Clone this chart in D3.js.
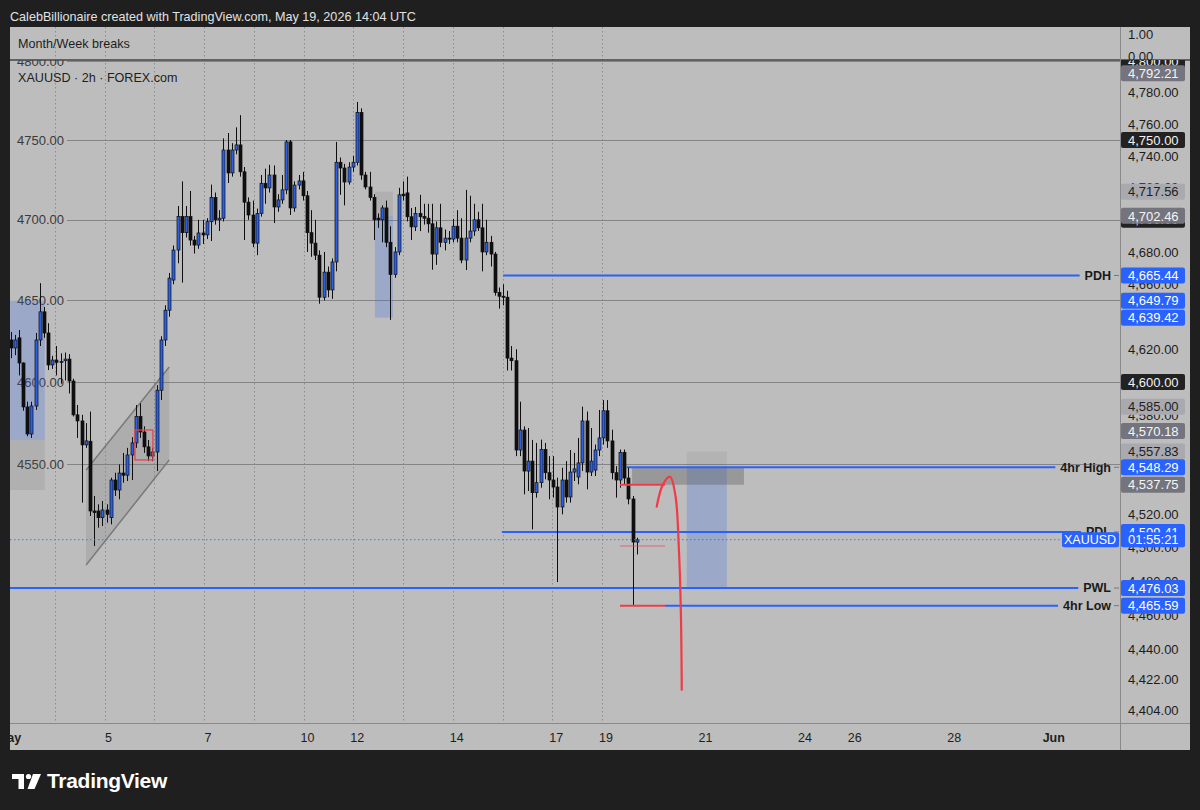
<!DOCTYPE html>
<html><head><meta charset="utf-8">
<script src="https://cdn.jsdelivr.net/npm/d3@7"></script>
<style>
body{margin:0;background:#1f1f1f;}
svg{display:block;font-family:"Liberation Sans",Arial,Helvetica,sans-serif;}
</style>
</head><body>
<svg id="c" width="1200" height="810"></svg>
<script>
// ---------------- DATA ----------------
const opens  = [4625.7,4620.8,4627,4611.6,4584.8,4568.4,4585.4,4625.7,4643,4630,4610.4,4613.4,4612,4613,4614,4600.6,4580,4576.3,4561.8,4564,4522,4522,4518,4522.6,4518,4540.6,4534.6,4544.8,4543.5,4555.7,4563,4579,4569.6,4560.6,4555.1,4557.5,4595,4625.7,4644,4662.6,4681.2,4702,4692,4702,4687.4,4684.3,4691.8,4690.6,4698.8,4714,4700,4701,4743.7,4729.3,4743.7,4746.9,4730,4711,4703,4685.5,4704,4722.8,4719.9,4728,4708,4712.4,4718.7,4748.8,4707.4,4721.7,4724.3,4715,4692,4685.5,4678,4652,4667.5,4656.5,4673.8,4736,4732.4,4723.6,4733,4736,4767.4,4728,4720.5,4714,4701,4700,4707.4,4686,4666,4680,4716,4716.8,4701.9,4695.6,4704,4702,4701,4697.5,4678.7,4695,4686,4688.6,4688,4696,4688.6,4675,4688.6,4693,4700,4695,4680,4686,4678.7,4655,4652.6,4652,4614.6,4613,4558.7,4570.8,4546,4552,4533,4539,4559,4545,4540.6,4536.4,4524.4,4540.6,4530.4,4545.4,4542.4,4550.9,4576.3,4545.4,4546.6,4558.7,4566,4582.5,4564.2,4545,4540.6,4557.3,4541.8,4529.2,4503.4];
const highs  = [4630.6,4628.8,4631.8,4612,4588,4588,4630,4660.7,4646,4636,4616,4622,4617.5,4618,4617,4602,4586,4580,4575,4582,4531,4526,4528,4526,4542,4545,4550,4556.9,4560,4566.5,4586,4587,4573,4564.8,4560,4598,4628,4647,4667,4684,4708.6,4724,4708.6,4718,4690,4700,4700,4701,4722,4717,4706,4751,4754.4,4748,4758,4765.7,4733,4714,4712,4707,4728,4732,4734.4,4734,4716,4728,4750,4750,4724,4728,4730,4718,4706,4700,4681,4680,4671,4676,4748.8,4739,4735,4736,4740,4774,4770,4730,4730,4716,4704,4709,4712,4696,4683,4720,4724,4727,4707.4,4708,4715.6,4710,4710,4710,4699,4710,4694,4693,4700.6,4706,4701,4718.7,4715,4710,4705,4710,4700,4690,4680,4658,4660,4656,4622,4620,4588,4573,4572,4564.8,4563,4565,4563,4555,4555,4542,4548,4552,4558.7,4557,4566,4585,4582,4572,4562,4583,4589,4589,4571,4549,4559,4559,4548,4531,4506];
const lows   = [4614.6,4616.4,4604,4582.5,4567,4566,4583,4622,4627,4607.3,4608,4604,4599,4601,4593,4579,4566,4527,4560,4519,4501,4512,4513,4515,4514,4531,4529,4539,4540,4540.6,4560,4566,4557,4552,4552,4546,4589,4622,4640,4660,4673,4661,4689,4684,4679,4682,4685,4688,4686.8,4697,4693,4699,4723,4727,4741,4727,4687.4,4700,4683,4678,4702,4710,4717,4698,4705,4710,4716,4703,4705,4719,4712,4680,4677,4675,4648,4650,4652,4651,4668,4715.6,4709,4722,4730,4734,4725,4719,4712,4687.4,4695,4686,4683,4638,4664,4678,4712,4699,4687.4,4693,4693,4697,4692,4669,4672,4683,4681,4685,4686,4686,4673,4668.8,4686,4690,4693,4668,4678,4671,4653,4645,4647,4607,4607,4555,4555,4532,4534,4511,4530,4536,4541,4529,4530,4479.6,4520,4527,4527,4540,4538,4546,4535,4543,4543,4555,4562,4560,4541,4530,4536,4538,4526,4465.6,4496];
const closes = [4620.8,4625.7,4611.6,4584.8,4568.4,4585.4,4625.7,4643,4630,4610.4,4613.4,4612,4612.5,4614,4600.6,4580,4576.3,4561.8,4564.2,4522,4521,4518,4522.6,4520,4540.6,4534.6,4544.8,4543.5,4555.7,4563,4579,4569.6,4560.6,4555.1,4557.5,4595,4625.7,4644,4663.8,4681.2,4702,4692,4702,4687.4,4684.3,4691.8,4690.6,4698.8,4714,4700,4701,4743.7,4729.3,4743.7,4746.9,4730,4711,4703,4685.5,4704,4722.8,4719.9,4728,4708,4712.4,4718.7,4748.8,4707.4,4721.7,4724.3,4715,4692,4685.5,4678,4652,4667.5,4656.5,4673.8,4736,4732.4,4723.6,4733,4736,4767.4,4728,4720.5,4714,4700,4700,4707.4,4686,4666,4680,4715.6,4715,4701.9,4695.6,4704,4701.9,4701,4697.5,4678.7,4695,4686,4688.6,4688,4696,4688.6,4675,4688.6,4693,4700,4695,4680,4686,4678.7,4655,4652.6,4652,4614.6,4613,4558.7,4570.8,4546,4552,4533,4539,4559,4545,4540.6,4536.4,4524.4,4540.6,4530.4,4545.4,4547.3,4550.9,4576.3,4545.4,4552,4558.7,4566,4582.5,4564.2,4545,4540.6,4557.3,4541.8,4529.2,4503.4,4504.8];
const firstBar = 1;

const dateLabels = ["May","5","7","10","12","14","17","19","21","24","26","28","Jun"];
const dateSlots  = [0,2,4,6,7,9,11,12,14,16,17,19,21];
const gridSlots  = [1,2,3,4,5,6,7,8,9,10,11,12];

const axisTicks = [4800,4780,4760,4740,4720,4680,4660,4620,4580,4520,4500,4480,4460,4440,4422,4404];
const breakLevels = [4800,4750,4700,4650,4600,4550];

const tagValues = [4800,4792.21,4750,4717.56,4700,4702.46,4665.44,4649.79,4639.42,4600,4585.00,4570.18,4557.83,4548.29,4537.75,4509.41,4476.03,4465.59];
const tagKinds  = ["black","gray","black","light","black","gray","blue","blue","blue","black","light","gray","light","blue","gray","blue","blue","blue"];

const keyNames  = ["PDH","4hr High","PDL","PWL","4hr Low"];
const keyValues = [4665.44,4548.29,4509.41,4476.03,4465.59];
const keyStart  = [119.0,148.6,118.7,-3,157.8];

const redBars = [147.0,157.8];
const redValues = [4537.75,4465.59];
const pinkValue = 4501;

const zoneBars = [149.9,176.7];
const zoneValues = [4548.29,4537.75];

// position tools: [barStart, barEnd, stop, entry, target]
const posLeft  = [-3,9.2,4534.6,4564.8,4649.79];
const posMid   = [88.3,92.6,4717.56,4702.46,4639.42];
const posRight = [163.0,172.6,4557.83,4548.29,4476.03];

const channelBars  = [19.1,39.0];
const channelUpper = [4546.6,4609.2];
const channelLower = [4489.7,4552.7];
const redBoxBars = [30.8,35.1];
const redBoxValues = [4552.7,4570.8];

const arrowBars   = [155.8,157.3,159.0,160.3,161.1,161.6,161.8];
const arrowPrices = [4524.6,4538,4542.6,4531,4500,4460,4416];

const countdown = "01:55:21";

// ---------------- LAYOUT ----------------
const svg = d3.select("#c");
const P = {left:10, right:1120, top:27, sep:60, bottom:723, axisR:1190, panelB:750};
const BG = "#bdbdbd";

const x = d3.scaleLinear().domain([0,151]).range([6.4, 6.4+151*4.174]);
const y = d3.scaleLog().domain([4600,4750]).range([382,140]);
const day = d3.scaleLinear().domain([0,12]).range([5,602]);

svg.append("rect").attr("width",1200).attr("height",810).attr("fill","#1f1f1f");
svg.append("rect").attr("x",P.left).attr("y",P.top).attr("width",P.axisR-P.left).attr("height",P.panelB-P.top).attr("fill",BG);

const defs = svg.append("defs");
defs.append("clipPath").attr("id","plot").append("rect").attr("x",P.left).attr("y",P.sep).attr("width",P.right-P.left).attr("height",P.bottom-P.sep);
defs.append("clipPath").attr("id","full").append("rect").attr("x",P.left).attr("y",P.top).attr("width",P.right-P.left).attr("height",P.panelB-P.top);
defs.append("clipPath").attr("id","axis").append("rect").attr("x",P.right).attr("y",P.sep).attr("width",P.axisR-P.right).attr("height",P.bottom-P.sep);

// header
svg.append("text").attr("x",10).attr("y",21).attr("fill","#e2e2e2").attr("font-size",12.6)
  .text("CalebBillionaire created with TradingView.com, May 19, 2026 14:04 UTC");

// vertical dotted grid
const gfull = svg.append("g").attr("clip-path","url(#full)");
gfull.selectAll("line.vg").data(gridSlots).join("line")
  .attr("x1",d=>Math.round(day(d))+0.5).attr("x2",d=>Math.round(day(d))+0.5)
  .attr("y1",P.top).attr("y2",P.bottom)
  .attr("stroke","#8e8e8e").attr("stroke-width",1).attr("stroke-dasharray","1.5,2.5");

// top pane texts
svg.append("text").attr("x",18).attr("y",48).attr("font-size",12.6).attr("fill","#1e1e1e").text("Month/Week breaks");
svg.append("text").attr("x",1128).attr("y",39).attr("font-size",13).attr("fill","#1e1e1e").text("1.00");

const plot = svg.append("g").attr("clip-path","url(#plot)");

// break level lines + left labels
breakLevels.forEach(v=>{
  plot.append("line").attr("x1",67).attr("x2",P.right).attr("y1",Math.round(y(v))+0.5).attr("y2",Math.round(y(v))+0.5)
    .attr("stroke","#858585").attr("stroke-width",1);
  plot.append("text").attr("x",17).attr("y",y(v)).attr("dy","0.35em").attr("font-size",13).attr("fill","#3a3a3a").text(v.toFixed(2));
});

// position tools
function posTool(p, stopCol, tgtCol){
  const [b0,b1,stop,entry,target]=p;
  plot.append("rect").attr("x",x(b0)).attr("width",x(b1)-x(b0))
    .attr("y",Math.min(y(stop),y(entry))).attr("height",Math.abs(y(stop)-y(entry))).attr("fill",stopCol);
  plot.append("rect").attr("x",x(b0)).attr("width",x(b1)-x(b0))
    .attr("y",Math.min(y(target),y(entry))).attr("height",Math.abs(y(target)-y(entry))).attr("fill",tgtCol);
}
posTool(posLeft,"rgba(110,110,110,0.16)","rgba(55,105,235,0.24)");
posTool(posMid,"rgba(110,110,110,0.16)","rgba(55,105,235,0.24)");
posTool(posRight,"rgba(110,110,110,0.12)","rgba(55,105,235,0.24)");

// zone
plot.append("rect").attr("x",x(zoneBars[0])).attr("width",x(zoneBars[1])-x(zoneBars[0]))
  .attr("y",y(zoneValues[0])).attr("height",y(zoneValues[1])-y(zoneValues[0])).attr("fill","rgba(80,80,80,0.33)");

// channel
const chPts = [[channelBars[0],channelUpper[0]],[channelBars[1],channelUpper[1]],[channelBars[1],channelLower[1]],[channelBars[0],channelLower[0]]];
plot.append("path").attr("d",d3.line().x(d=>x(d[0])).y(d=>y(d[1]))(chPts)+"Z").attr("fill","rgba(120,120,120,0.22)");
[channelUpper,channelLower].forEach(c=>{
  plot.append("line").attr("x1",x(channelBars[0])).attr("y1",y(c[0])).attr("x2",x(channelBars[1])).attr("y2",y(c[1]))
    .attr("stroke","#7a7a7a").attr("stroke-width",1.5);
});

// key level lines (blue)
const keyG = svg.append("g");
keyNames.forEach((n,i)=>{
  const t = keyG.append("text").attr("x",1111).attr("y",y(keyValues[i])).attr("dy","0.35em").attr("text-anchor","end")
    .attr("font-size",12.5).attr("font-weight","bold").attr("fill","#1a1a1a").text(n);
  const w = t.node().getComputedTextLength();
  plot.append("line").attr("x1",x(keyStart[i])).attr("x2",1111-w-5)
    .attr("y1",y(keyValues[i])).attr("y2",y(keyValues[i])).attr("stroke","#2962ff").attr("stroke-width",2);
  keyG.append("line").attr("x1",1114).attr("x2",1119).attr("y1",y(keyValues[i])).attr("y2",y(keyValues[i])).attr("stroke","#777").attr("stroke-width",1);
});

// candles
const idx = d3.range(opens.length);
const cg = plot.append("g");
cg.selectAll("line").data(idx).join("line")
  .attr("x1",i=>Math.round(x(i+firstBar))+0.5).attr("x2",i=>Math.round(x(i+firstBar))+0.5)
  .attr("y1",i=>y(highs[i])).attr("y2",i=>y(lows[i])).attr("stroke","#0e0e0e").attr("stroke-width",1);
cg.selectAll("rect").data(idx).join("rect")
  .attr("x",i=>Math.round(x(i+firstBar))-1).attr("width",3)
  .attr("y",i=>y(Math.max(opens[i],closes[i])))
  .attr("height",i=>Math.max(1,Math.abs(y(opens[i])-y(closes[i]))))
  .attr("fill",i=>closes[i]>=opens[i]?"#2c60e4":"#101010")
  .attr("stroke","#0e0e0e").attr("stroke-width",0.7);

// red box in channel
plot.append("rect").attr("x",x(redBoxBars[0])).attr("width",x(redBoxBars[1])-x(redBoxBars[0]))
  .attr("y",y(redBoxValues[1])).attr("height",y(redBoxValues[0])-y(redBoxValues[1]))
  .attr("fill","none").attr("stroke","#e8414d").attr("stroke-width",1.3);

// red short lines
redValues.forEach(v=>{
  plot.append("line").attr("x1",x(redBars[0])).attr("x2",x(redBars[1])).attr("y1",y(v)).attr("y2",y(v))
    .attr("stroke","#ec3f4e").attr("stroke-width",2);
});
plot.append("line").attr("x1",x(redBars[0])).attr("x2",x(redBars[1])).attr("y1",y(pinkValue)).attr("y2",y(pinkValue))
  .attr("stroke","rgba(236,63,78,0.45)").attr("stroke-width",1.5);

// red arrow curve
plot.append("path").attr("d",d3.line().curve(d3.curveCatmullRom.alpha(0.5)).x(d=>x(d[0])).y(d=>y(d[1]))(arrowBars.map((b,i)=>[b,arrowPrices[i]])))
  .attr("fill","none").attr("stroke","#f03a48").attr("stroke-width",2.2).attr("stroke-linecap","round");

// current price dotted
const last = closes[closes.length-1];
plot.append("line").attr("x1",P.left).attr("x2",1062).attr("y1",y(last)).attr("y2",y(last))
  .attr("stroke","#4a72dc").attr("stroke-width",1).attr("stroke-dasharray","1.5,2.5");

// separators
svg.append("line").attr("x1",P.left).attr("x2",P.axisR).attr("y1",P.sep).attr("y2",P.sep).attr("stroke","#454545").attr("stroke-width",1.6);
svg.append("line").attr("x1",P.left).attr("x2",P.axisR).attr("y1",P.bottom+0.5).attr("y2",P.bottom+0.5).attr("stroke","#8a8a8a").attr("stroke-width",1);
svg.append("line").attr("x1",P.right+0.5).attr("x2",P.right+0.5).attr("y1",P.top).attr("y2",P.panelB).attr("stroke","#8a8a8a").attr("stroke-width",1);

// right axis
const ax = svg.append("g").attr("clip-path","url(#axis)");
ax.selectAll("text.t").data(axisTicks).join("text").attr("x",1128).attr("y",d=>y(d)).attr("dy","0.36em")
  .attr("font-size",13).attr("fill","#1c1c1c").text(d=>d3.format(",.2f")(d));
const tagStyle = {black:["#222","#f2f2f2"],gray:["#74747e","#f4f4f4"],light:["#a9a9b0","#1e1e1e"],blue:["#2962ff","#ffffff"]};
tagValues.forEach((v,i)=>{
  const [bg,fg]=tagStyle[tagKinds[i]];
  ax.append("rect").attr("x",1121).attr("y",y(v)-8).attr("width",64).attr("height",16).attr("rx",2).attr("fill",bg);
  ax.append("text").attr("x",1128).attr("y",y(v)).attr("dy","0.36em").attr("font-size",13).attr("fill",fg).text(d3.format(",.2f")(v));
});
svg.append("text").attr("x",1128).attr("y",61).attr("font-size",13).attr("fill","#1e1e1e").text("0.00");

// current price / countdown
svg.append("rect").attr("x",1062).attr("y",y(last)-7.5).attr("width",57).attr("height",15).attr("rx",2).attr("fill","#2962ff");
svg.append("text").attr("x",1090).attr("y",y(last)).attr("dy","0.36em").attr("text-anchor","middle").attr("font-size",12.5).attr("fill","#fff").text("XAUUSD");
svg.append("rect").attr("x",1121).attr("y",y(last)-7.5).attr("width",64).attr("height",15).attr("rx",2).attr("fill","#2962ff");
svg.append("text").attr("x",1128).attr("y",y(last)).attr("dy","0.36em").attr("font-size",13).attr("fill","#fff").text(countdown);

// symbol legend
svg.append("text").attr("x",18).attr("y",82).attr("font-size",12.6).attr("fill","#1e1e1e").text("XAUUSD · 2h · FOREX.com");

// time axis
const tg = svg.append("g").attr("clip-path","url(#full)");
tg.selectAll("text").data(dateLabels).join("text")
  .attr("x",(d,i)=>day(dateSlots[i])+4).attr("y",742).attr("text-anchor","middle")
  .attr("font-size",12.5).attr("fill","#1e1e1e").attr("font-weight",d=>isNaN(+d)?"bold":"normal").text(d=>d);

// TradingView logo
const lg = svg.append("g").attr("fill","#ffffff");
lg.append("path").attr("d","M12,774 H24 V789 H18.5 V779 H12 Z");
lg.append("circle").attr("cx",28.5).attr("cy",776.5).attr("r",2.6);
lg.append("path").attr("d","M33,774 H41 L34.5,789 H27.5 Z");
svg.append("text").attr("x",47).attr("y",788).attr("font-size",21).attr("font-weight","bold").attr("fill","#fff")
  .attr("letter-spacing","-0.3").text("TradingView");
</script>
</body></html>
